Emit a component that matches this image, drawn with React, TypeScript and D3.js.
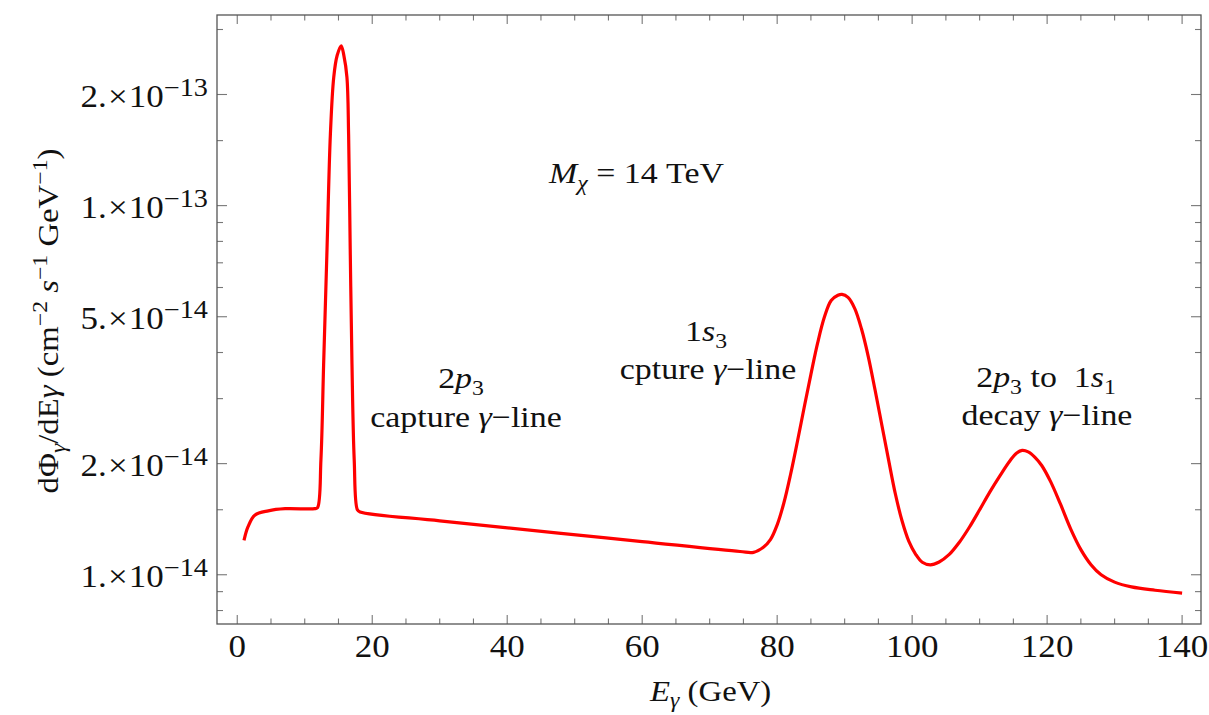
import { useEffect, useRef } from 'react';
import * as d3 from 'd3';

// photon energy (GeV) and flux (cm^-2 s^-1 GeV^-1)
const energy = [
  1.0, 1.6, 2.6, 4.6, 7.1, 11.5, 11.9, 12.4, 12.8, 13.3, 13.8, 14.3, 14.8, 15.4,
  15.8, 16.25, 16.5, 16.74, 17.0, 17.33, 17.8, 18.2, 30, 47.6, 60, 74.5, 76.5,
  78, 79, 80, 81, 82, 83, 84, 85, 86, 87, 88, 89, 89.6,
  90.5, 91.5, 92.5, 93.5, 94.5, 95.5, 96.5, 97.5, 98.5, 99.5, 100.5, 101.5, 102.7,
  104, 105.5, 107, 108.5, 110, 111.5, 113, 114.5, 115.5, 116.3, 117.2, 118.2, 119.2,
  120.5, 122, 123.5, 125, 126.5, 128, 130, 132.5, 136, 140,
];
const flux = [
  1.24e-14, 1.35e-14, 1.45e-14, 1.49e-14, 1.51e-14, 1.51e-14, 1.52e-14, 2.05e-14,
  3.72e-14, 7.6e-14, 1.56e-13, 2.23e-13, 2.55e-13, 2.71e-13, 2.55e-13, 2.23e-13,
  1.56e-13, 7.6e-14, 3.72e-14, 2.05e-14, 1.5e-14, 1.48e-14, 1.4e-14, 1.297e-14,
  1.23e-14, 1.156e-14, 1.15e-14,
  1.189e-14, 1.245e-14, 1.365e-14, 1.567e-14, 1.875e-14, 2.296e-14, 2.838e-14,
  3.491e-14, 4.246e-14, 4.989e-14, 5.534e-14, 5.715e-14, 5.75e-14,
  5.64e-14, 5.26e-14, 4.63e-14, 3.9e-14, 3.17e-14, 2.55e-14, 2.05e-14, 1.66e-14,
  1.4e-14, 1.233e-14, 1.138e-14, 1.081e-14, 1.064e-14,
  1.083e-14, 1.135e-14, 1.225e-14, 1.347e-14, 1.5e-14, 1.675e-14, 1.854e-14,
  2.037e-14, 2.138e-14, 2.173e-14, 2.153e-14, 2.08e-14, 1.977e-14,
  1.79e-14, 1.55e-14, 1.33e-14, 1.17e-14, 1.065e-14, 1.0e-14, 9.55e-15, 9.27e-15,
  9.08e-15, 8.92e-15,
];

const xMajorTicks = [0, 20, 40, 60, 80, 100, 120, 140];
const xMinorTicks = d3.range(0, 145, 5).filter(v => v % 20 !== 0);
const yMajorTicks = [1e-14, 2e-14, 5e-14, 1e-13, 2e-13];
const yTickMantissa = ['1.', '2.', '5.', '1.', '2.'];
const yTickExponent = ['\u221214', '\u221214', '\u221214', '\u221213', '\u221213'];
const yMinorTicks = [8e-15, 9e-15, 1.5e-14, 3e-14, 4e-14, 6e-14, 7e-14, 8e-14, 9e-14, 1.5e-13, 3e-13];

const serif = "'Liberation Serif', 'Times New Roman', Times, 'DejaVu Serif', serif";
const stretch = 1.13; // reference glyphs run a bit wider than Liberation Serif

type Part = { t: string; it?: boolean; sub?: boolean; sup?: boolean; dx?: number };

function rich(g: any, parts: Part[], x: number, y: number, size: number, anchor: string,
  opts: { small?: number; up?: number; down?: number } = {}) {
  const small = opts.small ?? size * 0.72;
  const up = opts.up ?? size * 0.38;
  const down = opts.down ?? size * 0.25;
  const text = g.append('g')
    .attr('transform', `translate(${x},${y}) scale(${stretch},1)`)
    .append('text')
    .attr('x', 0).attr('y', 0)
    .style('font-family', serif)
    .style('white-space', 'pre')
    .attr('font-size', size)
    .attr('text-anchor', anchor)
    .attr('fill', '#111');
  let shift = 0;
  parts.forEach(p => {
    const target = p.sub ? down : p.sup ? -up : 0;
    const ts = text.append('tspan').attr('dy', target - shift).text(p.t);
    shift = target;
    if (p.sub || p.sup) ts.attr('font-size', small);
    if (p.it) ts.attr('font-style', 'italic');
    if (p.dx) ts.attr('dx', p.dx);
  });
  return text;
}

export default function App() {
  const svgRef = useRef<SVGSVGElement>(null);

  useEffect(() => {
    const width = 1209;
    const height = 715;
    const left = 217, right = 1201, top = 15, bottom = 624;

    const svg = d3.select(svgRef.current)
      .attr('width', width)
      .attr('height', height);
    svg.selectAll('*').remove();

    const x = d3.scaleLinear().domain([-3, 142.8]).range([left, right]);
    const y = d3.scaleLog().domain([7.355e-15, 3.284e-13]).range([bottom, top]);

    // ticks on all four sides, pointing inward
    const ticks = svg.append('g').attr('stroke', '#777').attr('stroke-width', 1.1);
    const xt = [...xMajorTicks.map(v => ({ v, l: 9 })), ...xMinorTicks.map(v => ({ v, l: 5.5 }))];
    xt.forEach(d => {
      ticks.append('line').attr('x1', x(d.v)).attr('x2', x(d.v)).attr('y1', bottom).attr('y2', bottom - d.l);
      ticks.append('line').attr('x1', x(d.v)).attr('x2', x(d.v)).attr('y1', top).attr('y2', top + d.l);
    });
    const yt = [...yMajorTicks.map(v => ({ v, l: 10 })), ...yMinorTicks.map(v => ({ v, l: 6 }))];
    yt.forEach(d => {
      ticks.append('line').attr('y1', y(d.v)).attr('y2', y(d.v)).attr('x1', left).attr('x2', left + d.l);
      ticks.append('line').attr('y1', y(d.v)).attr('y2', y(d.v)).attr('x1', right).attr('x2', right - d.l);
    });

    svg.append('rect')
      .attr('x', left).attr('y', top)
      .attr('width', right - left).attr('height', bottom - top)
      .attr('fill', 'none')
      .attr('stroke', '#555')
      .attr('stroke-width', 1.3);

    // tick labels
    xMajorTicks.forEach(v => {
      rich(svg, [{ t: String(v) }], x(v), bottom + 33, 31, 'middle');
    });
    yMajorTicks.forEach((v, i) => {
      rich(svg, [
        { t: yTickMantissa[i] },
        { t: '\u00d7', dx: 1 },
        { t: '10', dx: 1 },
        { t: yTickExponent[i], sup: true },
      ], 208, y(v) + 12, 31, 'end', { small: 25, up: 11 });
    });

    // curve
    const line = d3.line<number>()
      .x((d, i) => x(energy[i]))
      .y(d => y(d))
      .curve(d3.curveCatmullRom.alpha(0.5));
    svg.append('path')
      .datum(flux)
      .attr('d', line)
      .attr('fill', 'none')
      .attr('stroke', '#ff0000')
      .attr('stroke-width', 3.2)
      .attr('stroke-linejoin', 'round');

    // axis labels
    rich(svg, [
      { t: 'E', it: true },
      { t: '\u03b3', it: true, sub: true },
      { t: ' (GeV)' },
    ], 650, 701, 29, 'start', { small: 21, down: 6 });

    const yl = svg.append('g').attr('transform', 'translate(58,321) rotate(-90)');
    rich(yl, [
      { t: 'd\u03a6' },
      { t: '\u03b3', it: true, sub: true },
      { t: '/dE' },
      { t: '\u03b3', it: true },
      { t: ' (cm' },
      { t: '\u22122', sup: true },
      { t: ' ' },
      { t: 's', it: true },
      { t: '\u22121', sup: true },
      { t: ' GeV' },
      { t: '\u22121', sup: true },
      { t: ')' },
    ], 0, 0, 29, 'middle', { small: 21, up: 11, down: 7 });

    // annotations
    const fs = 30;
    const ann = { small: 21, down: 7, up: 10 };
    rich(svg, [
      { t: 'M', it: true },
      { t: '\u03c7', it: true, sub: true },
      { t: ' = 14 TeV' },
    ], 549, 183, fs, 'start', ann);

    rich(svg, [{ t: '2' }, { t: 'p', it: true }, { t: '3', sub: true }], 461, 388, fs, 'middle', ann);
    rich(svg, [{ t: 'capture ' }, { t: '\u03b3', it: true }, { t: '\u2212line' }], 466, 427, fs, 'middle', ann);

    rich(svg, [{ t: '1' }, { t: 's', it: true }, { t: '3', sub: true }], 706, 341, fs, 'middle', ann);
    rich(svg, [{ t: 'cpture ' }, { t: '\u03b3', it: true }, { t: '\u2212line' }], 708, 379, fs, 'middle', ann);

    rich(svg, [
      { t: '2' }, { t: 'p', it: true }, { t: '3', sub: true },
      { t: ' to  1' }, { t: 's', it: true }, { t: '1', sub: true },
    ], 1046, 387, fs, 'middle', ann);
    rich(svg, [{ t: 'decay ' }, { t: '\u03b3', it: true }, { t: '\u2212line' }], 1047, 425, fs, 'middle', ann);
  }, []);

  return (
    <svg
      ref={svgRef}
      style={{ position: 'absolute', left: 0, top: 0, background: '#fff' }}
    />
  );
}
